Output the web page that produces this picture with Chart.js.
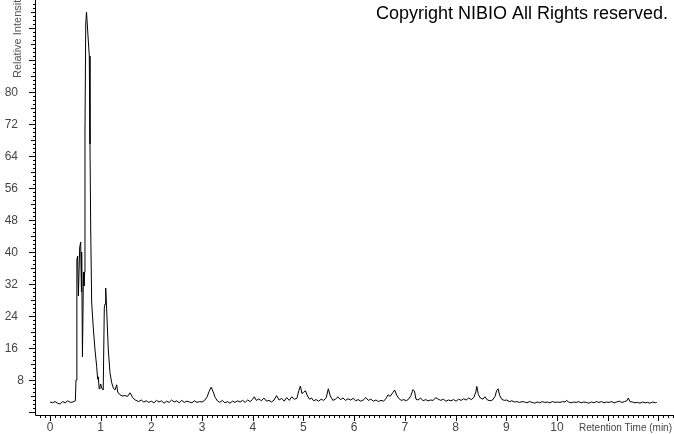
<!DOCTYPE html>
<html>
<head>
<meta charset="utf-8">
<script src="https://cdn.jsdelivr.net/npm/chart.js@4"></script>
<style>
  body { margin: 0; background: #fff; }
  canvas { display: block; }
</style>
</head>
<body>
<canvas id="chromatogram" width="674" height="434"></canvas>
<script>
// [retention time (min), relative intensity]
const startTrace = [
  [0.00, 2.5], [0.05, 2.3], [0.10, 2.6], [0.15, 2.2], [0.20, 2.0], [0.25, 2.6],
  [0.30, 2.3], [0.35, 2.8], [0.40, 2.4], [0.45, 2.5], [0.50, 2.8]
];

const mainPeaks = [
  [0.513, 8], [0.53, 38], [0.545, 39], [0.56, 29], [0.585, 41], [0.605, 42.5],
  [0.62, 30], [0.625, 40], [0.64, 13.8], [0.66, 35], [0.67, 31.5], [0.684, 35],
  [0.69, 70], [0.705, 97], [0.72, 100], [0.74, 96], [0.775, 89], [0.789, 67],
  [0.803, 45.5], [0.822, 27.5], [0.854, 21], [0.888, 15.5], [0.921, 11.3],
  [0.94, 8.2], [0.953, 8.8], [0.97, 5.8], [0.986, 6.3], [1.00, 7.0], [1.02, 6],
  [1.05, 5.5], [1.071, 26], [1.085, 27], [1.099, 31], [1.118, 25.5], [1.15, 15.5],
  [1.183, 9.8], [1.217, 7.3], [1.249, 6], [1.282, 5.5], [1.316, 6.8], [1.335, 5],
  [1.38, 4.3], [1.43, 4.0], [1.48, 4.1], [1.53, 3.9], [1.58, 4.8], [1.63, 3.6]
];

const midTrace = [
  [1.68, 3.0], [1.70, 2.9], [1.75, 2.6], [1.80, 3.0], [1.85, 2.5], [1.90, 2.8],
  [1.95, 2.4], [2.00, 2.7], [2.05, 2.3], [2.10, 2.9], [2.15, 2.5], [2.20, 2.8],
  [2.25, 2.2], [2.30, 2.7], [2.35, 2.4], [2.40, 3.0], [2.45, 2.5], [2.50, 2.8],
  [2.55, 2.3], [2.60, 2.9], [2.65, 2.4], [2.70, 2.7], [2.75, 2.5], [2.80, 2.3],
  [2.85, 2.8], [2.90, 2.4], [2.95, 2.6], [3.00, 2.5], [3.05, 2.9], [3.10, 3.8],
  [3.14, 5.2], [3.18, 6.2], [3.22, 5.0], [3.26, 3.6], [3.30, 2.8], [3.35, 2.4],
  [3.40, 2.9], [3.45, 2.3], [3.50, 2.6], [3.55, 2.2], [3.60, 2.7], [3.65, 2.4],
  [3.70, 2.8], [3.75, 2.5], [3.80, 2.9], [3.85, 2.4], [3.90, 3.0], [3.95, 2.6],
  [4.00, 3.2], [4.03, 3.8], [4.07, 2.9], [4.12, 3.3], [4.17, 2.8], [4.22, 3.5],
  [4.27, 2.7], [4.32, 2.9], [4.37, 2.5], [4.42, 3.0], [4.47, 4.1], [4.52, 3.0],
  [4.57, 3.4], [4.62, 2.7], [4.67, 3.6], [4.72, 2.9], [4.77, 3.8], [4.82, 3.2],
  [4.87, 3.4], [4.91, 5.4], [4.94, 6.5], [4.97, 4.6], [5.00, 4.9], [5.04, 5.3],
  [5.08, 4.0], [5.12, 3.2], [5.16, 3.5], [5.20, 2.8], [5.25, 3.1], [5.30, 2.7],
  [5.35, 3.2], [5.40, 2.9], [5.45, 3.6], [5.49, 5.8], [5.53, 4.0], [5.58, 2.9],
  [5.63, 3.2], [5.68, 3.8], [5.73, 3.1], [5.78, 3.5], [5.83, 2.9], [5.88, 3.3],
  [5.93, 3.0], [5.98, 3.4], [6.03, 2.8], [6.08, 3.1], [6.13, 2.7], [6.18, 3.0],
  [6.23, 3.6], [6.28, 2.9], [6.33, 3.2], [6.38, 2.7], [6.43, 3.0], [6.48, 2.6],
  [6.53, 2.9], [6.58, 2.7], [6.63, 3.4], [6.67, 4.3], [6.71, 3.9], [6.76, 4.8],
  [6.80, 5.5], [6.84, 4.2], [6.88, 3.4], [6.93, 2.9], [6.98, 3.1], [7.03, 2.8],
  [7.08, 3.3], [7.12, 4.1], [7.16, 5.6], [7.19, 5.2], [7.22, 3.2], [7.26, 3.0],
  [7.31, 3.5], [7.36, 2.8], [7.41, 3.1], [7.46, 2.8], [7.51, 3.0], [7.56, 2.9],
  [7.61, 3.6], [7.66, 3.2], [7.71, 2.9], [7.76, 3.2], [7.81, 2.7], [7.86, 3.0],
  [7.91, 2.8], [7.96, 3.1], [8.01, 2.7], [8.06, 3.2], [8.11, 2.9], [8.16, 3.3],
  [8.21, 3.0], [8.26, 3.5], [8.31, 3.1], [8.36, 3.6], [8.40, 5.0], [8.42, 6.4],
  [8.45, 4.4], [8.49, 3.5], [8.54, 3.2], [8.58, 3.8], [8.63, 3.0], [8.68, 2.8],
  [8.73, 3.0], [8.78, 3.9], [8.81, 5.3], [8.84, 5.8], [8.87, 4.2], [8.91, 3.2],
  [8.96, 2.9]
];

const lateTrace = [
  [9.01, 3.0], [9.06, 2.6], [9.11, 2.8], [9.16, 2.5], [9.21, 2.6], [9.26, 2.4],
  [9.31, 2.6], [9.36, 2.5], [9.41, 2.3], [9.46, 2.6], [9.51, 2.4], [9.56, 2.2],
  [9.61, 2.5], [9.66, 2.3], [9.71, 2.6], [9.76, 2.4], [9.81, 2.5], [9.86, 2.3],
  [9.91, 2.6], [9.96, 2.4], [10.01, 2.5], [10.06, 2.4], [10.11, 2.6], [10.16, 2.5],
  [10.19, 2.9], [10.23, 2.5], [10.28, 2.3], [10.33, 2.5], [10.38, 2.4], [10.43, 2.6],
  [10.48, 2.3], [10.53, 2.5], [10.58, 2.4], [10.63, 2.2], [10.68, 2.5], [10.73, 2.3],
  [10.78, 2.6], [10.83, 2.4], [10.88, 2.6], [10.93, 2.3], [10.98, 2.5], [11.03, 2.4],
  [11.08, 2.6], [11.13, 2.3], [11.18, 2.5], [11.23, 2.7], [11.28, 2.4], [11.33, 2.6],
  [11.38, 2.8], [11.41, 3.5], [11.44, 2.6], [11.49, 2.5], [11.54, 2.3], [11.59, 2.4],
  [11.64, 2.2], [11.69, 2.5], [11.74, 2.3], [11.79, 2.4], [11.84, 2.2], [11.89, 2.5],
  [11.94, 2.3], [11.97, 2.4]
];

const xTickLabels = [0, 1, 2, 3, 4, 5, 6, 7, 8, 9, 10];
const yTickLabels = [8, 16, 24, 32, 40, 48, 56, 64, 72, 80];

const xTitle = "Retention Time (min)";
const yTitle = "Relative Intensity";
const copyright = "Copyright NIBIO All Rights reserved.";

const points = [...startTrace, ...mainPeaks, ...midTrace, ...lateTrace]
  .map(([x, y]) => ({ x, y }));

const FONT = '"Liberation Sans", Arial, sans-serif';

// axes, ticks and text drawn from the chart's own scales
const axesPlugin = {
  id: "axesPlugin",
  afterDraw(chart) {
    const { ctx, chartArea: a, scales: { x, y } } = chart;
    ctx.save();
    ctx.strokeStyle = "#000";
    ctx.lineWidth = 1;
    ctx.beginPath();
    ctx.moveTo(a.left + 0.5, a.top);
    ctx.lineTo(a.left + 0.5, a.bottom + 0.5);
    ctx.lineTo(a.right, a.bottom + 0.5);

    // y ticks every 1, longer at 4 and 8
    for (let v = 0; v <= 102; v++) {
      const py = Math.round(y.getPixelForValue(v)) + 0.5;
      const len = v % 8 === 0 ? 6 : v % 4 === 0 ? 4 : 2;
      ctx.moveTo(a.left - len, py);
      ctx.lineTo(a.left, py);
    }
    // x ticks every 0.1, longer at integers
    for (let i = -2; i <= 123; i++) {
      const px = Math.round(x.getPixelForValue(i / 10)) + 0.5;
      const len = i % 10 === 0 ? 6 : 3;
      ctx.moveTo(px, a.bottom);
      ctx.lineTo(px, a.bottom + len);
    }
    ctx.stroke();

    ctx.fillStyle = "#444";
    ctx.font = "12px " + FONT;
    ctx.textBaseline = "middle";
    ctx.textAlign = "right";
    yTickLabels.forEach(v => {
      const right = v < 10 ? 24 : 18;
      ctx.fillText(String(v), right, y.getPixelForValue(v) + 1);
    });
    ctx.textAlign = "center";
    xTickLabels.forEach(v => ctx.fillText(String(v), x.getPixelForValue(v), a.bottom + 13));

    ctx.font = "10px " + FONT;
    ctx.textAlign = "right";
    ctx.fillText(xTitle, 672, a.bottom + 13);

    ctx.save();
    ctx.translate(21, 78);
    ctx.rotate(-Math.PI / 2);
    ctx.fillStyle = "#555";
    ctx.font = "11px " + FONT;
    ctx.textAlign = "left";
    ctx.textBaseline = "alphabetic";
    ctx.fillText(yTitle, 0, 0);
    ctx.restore();

    ctx.fillStyle = "#000";
    ctx.font = "18px " + FONT;
    ctx.textAlign = "right";
    ctx.textBaseline = "middle";
    ctx.fillText(copyright, 668, 14);
    ctx.restore();
  }
};

new Chart(document.getElementById("chromatogram"), {
  type: "line",
  data: {
    datasets: [{
      data: points,
      borderColor: "#000",
      borderWidth: 1,
      pointRadius: 0,
      tension: 0,
      fill: false
    }]
  },
  options: {
    responsive: false,
    animation: false,
    layout: { padding: { left: 35, right: 0, top: 0, bottom: 19 } },
    plugins: { legend: { display: false }, tooltip: { enabled: false } },
    scales: {
      x: { type: "linear", min: -0.296, max: 12.31, display: false },
      y: { min: -0.75, max: 103, display: false }
    }
  },
  plugins: [axesPlugin]
});
</script>
</body>
</html>
